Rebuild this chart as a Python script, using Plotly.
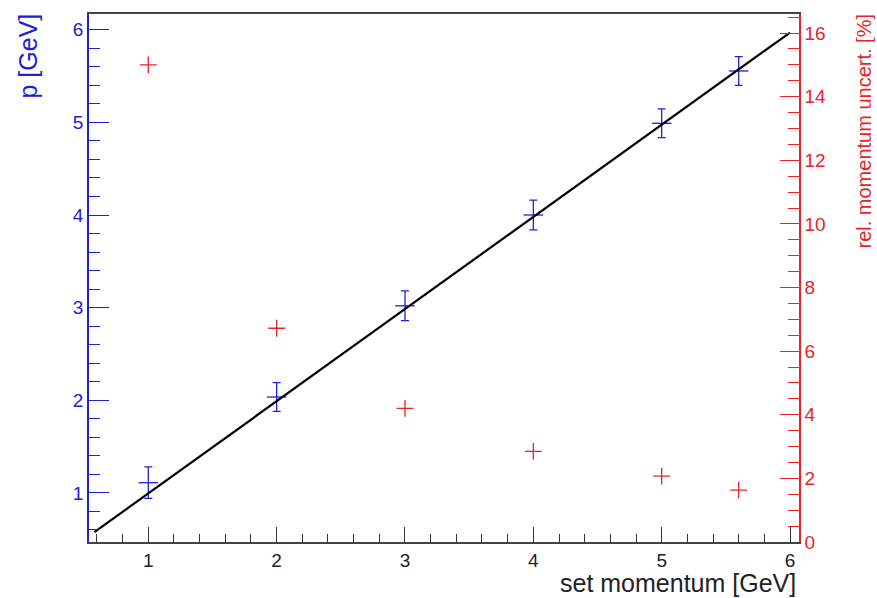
import plotly.graph_objects as go

# ---- data ----
set_momentum = [1.0, 2.0, 3.0, 4.0, 5.0, 5.6]
p_measured = [1.11, 2.035, 3.02, 4.0, 4.99, 5.555]
p_error = [0.17, 0.155, 0.16, 0.16, 0.155, 0.155]
rel_uncert = [15.0, 6.72, 4.20, 2.85, 2.07, 1.63]
fit_x = [0.58, 6.0]
fit_p = [0.577, 5.97]

x_ticks = [1, 2, 3, 4, 5, 6]
p_ticks = [1, 2, 3, 4, 5, 6]
u_ticks = [0, 2, 4, 6, 8, 10, 12, 14, 16]

BLUE = "#2020dc"
RED = "#e8232b"
FONT = "Liberation Sans, Arial, Helvetica, sans-serif"

W, H = 877, 598
L, R, T, B = 89, 78, 14, 56
pw, ph = W - L - R, H - T - B

def px_x(px):
    return (px - L) / pw

def px_y(py):
    return (H - B - py) / ph

fig = go.Figure()

fig.add_trace(go.Scatter(
    x=set_momentum, y=p_measured, mode="markers",
    marker=dict(symbol="line-ew", size=14, line=dict(width=1.3, color=BLUE), color=BLUE),
    error_y=dict(type="data", array=p_error, visible=True, color=BLUE, thickness=1.3, width=4),
    showlegend=False, cliponaxis=False,
))

fig.add_trace(go.Scatter(
    x=fit_x, y=fit_p, mode="lines",
    line=dict(color="black", width=2.2),
    showlegend=False,
))

fig.add_trace(go.Scatter(
    x=set_momentum, y=rel_uncert, mode="markers", yaxis="y2",
    marker=dict(symbol="cross-thin", size=12, line=dict(width=1.3, color=RED), color=RED),
    showlegend=False,
))

fig.update_layout(
    width=W, height=H,
    margin=dict(l=L, r=R, t=T, b=B, pad=0),
    paper_bgcolor="white", plot_bgcolor="white",
    font=dict(family=FONT, size=18, color="#222"),
    xaxis=dict(
        range=[0.538, 6.07], tickvals=x_ticks, ticktext=[str(v) for v in x_ticks],
        ticks="inside", ticklen=15, tickwidth=1.3, tickcolor="#333",
        minor=dict(dtick=0.2, tick0=0, ticks="inside", ticklen=8, tickwidth=1.2, tickcolor="#333"),
        showline=True, linecolor="#444", linewidth=1.5, mirror=True,
        showgrid=False, zeroline=False,
        tickfont=dict(size=19, color="#222", family=FONT),
    ),
    yaxis=dict(
        range=[0.47, 6.17], tickvals=p_ticks, ticktext=[str(v) for v in p_ticks],
        ticks="inside", ticklen=20, tickwidth=1.3, tickcolor=BLUE,
        minor=dict(dtick=0.2, tick0=0, ticks="inside", ticklen=11, tickwidth=1.2, tickcolor=BLUE),
        showline=True, linecolor=BLUE, linewidth=1.5,
        showgrid=False, zeroline=False,
        tickfont=dict(size=19, color=BLUE, family=FONT),
    ),
    yaxis2=dict(
        overlaying="y", side="right", anchor="x",
        range=[0, 16.6], tickvals=u_ticks, ticktext=[str(v) for v in u_ticks],
        ticks="inside", ticklen=19, tickwidth=1.3, tickcolor=RED,
        minor=dict(dtick=0.5, tick0=0, ticks="inside", ticklen=11, tickwidth=1.2, tickcolor=RED),
        showline=True, linecolor=RED, linewidth=1.5,
        showgrid=False, zeroline=False,
        tickfont=dict(size=19, color=RED, family=FONT),
    ),
    annotations=[
        dict(text="set momentum [GeV]", xref="paper", yref="paper",
             x=px_x(798), y=px_y(583), xanchor="right", yanchor="middle",
             showarrow=False, font=dict(size=25, color="#222", family=FONT)),
        dict(text="p [GeV]", xref="paper", yref="paper", textangle=-90,
             x=px_x(28), y=px_y(12), xanchor="center", yanchor="top",
             showarrow=False, font=dict(size=25, color=BLUE, family=FONT)),
        dict(text="rel. momentum uncert. [%]", xref="paper", yref="paper", textangle=-90,
             x=px_x(864), y=px_y(12), xanchor="center", yanchor="top",
             showarrow=False, font=dict(size=20, color=RED, family=FONT)),
    ],
)

fig.write_html("out.html")
